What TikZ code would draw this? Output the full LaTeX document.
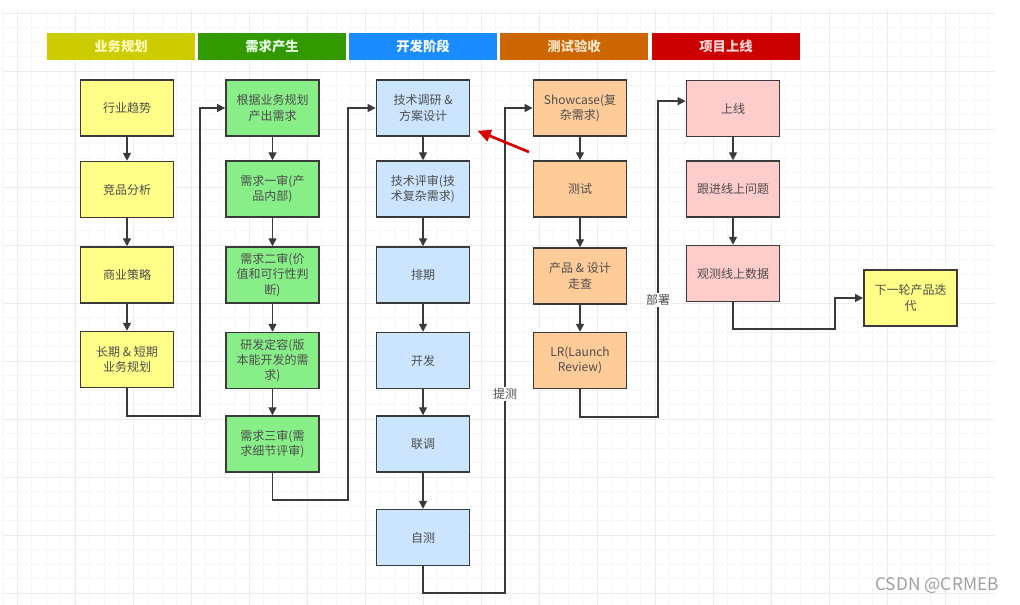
\documentclass[tikz,border=0pt]{standalone}
\usepackage{fontspec}
\newfontfamily\cjk{Noto Sans CJK SC}
\usepackage{tikz}
\usetikzlibrary{arrows.meta, calc, positioning}
\definecolor{hdryellow}{HTML}{CCCC00}
\definecolor{hdrgreen}{HTML}{339900}
\definecolor{hdrblue}{HTML}{1A8CFF}
\definecolor{hdrorange}{HTML}{CC6600}
\definecolor{hdrred}{HTML}{CC0000}
\definecolor{boxyellow}{HTML}{FFFF88}
\definecolor{boxgreen}{HTML}{88EE88}
\definecolor{boxblue}{HTML}{CCE5FF}
\definecolor{boxorange}{HTML}{FFCC99}
\definecolor{boxpink}{HTML}{FFCCCC}
\definecolor{linegray}{HTML}{3A3A3A}
\definecolor{textgray}{HTML}{4D4D4D}
\tikzstyle{header} = [minimum width=111pt, minimum height=20.25pt, inner sep=0pt, font=\cjk\fontsize{10}{12}\selectfont\bfseries]
\tikzstyle{stage} = [draw=linegray, line width=1.1pt, minimum width=70pt, minimum height=42pt, inner sep=1pt, align=center, text=textgray, font=\cjk\fontsize{9}{11.5}\selectfont]
\tikzstyle{arrow} = [line width=1.1pt, draw=linegray, -{Triangle[length=6pt,width=6pt]}]
\tikzstyle{hint} = [line width=2pt, draw=red!85!black, -{Triangle[length=10pt,width=9pt]}]
\tikzstyle{edgetag} = [fill=white, inner sep=1pt, text=textgray, font=\cjk\fontsize{9}{11}\selectfont]
\tikzstyle{gridminor} = [draw=gray!7, line width=0.5pt]
\tikzstyle{gridmajor} = [draw=gray!15, line width=0.6pt]

\begin{document}
\begin{tikzpicture}[x=0.75pt, y=-0.75pt]
            \useasboundingbox (0,0) rectangle (1020,605);
            % background grid
            \foreach \k in {-1,...,67} \draw[gridminor] ({17+14.5*\k},10) -- ({17+14.5*\k},605);
            \foreach \k in {0,...,41} \draw[gridminor] (2,{13+14.5*\k}) -- (995,{13+14.5*\k});
            \foreach \k in {0,...,16} \draw[gridmajor] ({17+58*\k},10) -- ({17+58*\k},605);
            \foreach \k in {0,...,10} \draw[gridmajor] (2,{13+58*\k}) -- (995,{13+58*\k});

            % phase headers
            \node[header, fill=hdryellow, text=yellow!25] at (121,46.5) (hdrplan) {业务规划};
            \node[header, fill=hdrgreen, text=white!90!green] at (272,46.5) (hdrneed) {需求产生};
            \node[header, fill=hdrblue, text=white] at (423,46.5) (hdrdev) {开发阶段};
            \node[header, fill=hdrorange, text=orange!20] at (574,46.5) (hdrtest) {测试验收};
            \node[header, fill=hdrred, text=red!15] at (726,46.5) (hdrlive) {项目上线};

            % business planning
            \node[stage, fill=boxyellow] at (127,108) (trend) {行业趋势};
            \node[stage, fill=boxyellow] at (127,189.5) (compete) {竞品分析};
            \node[stage, fill=boxyellow] at (127,275) (strategy) {商业策略};
            \node[stage, fill=boxyellow] at (127,359.5) (bizplan) {长期 \& 短期\\业务规划};

            % requirements
            \node[stage, fill=boxgreen] at (272.5,108) (needsrc) {根据业务规划\\产出需求};
            \node[stage, fill=boxgreen] at (272.5,189) (review1) {需求一审(产\\品内部)};
            \node[stage, fill=boxgreen] at (272.5,275) (review2) {需求二审(价\\值和可行性判\\断)};
            \node[stage, fill=boxgreen] at (272.5,360.5) (scope) {研发定容(版\\本能开发的需\\求)};
            \node[stage, fill=boxgreen] at (272.5,444) (review3) {需求三审(需\\求细节评审)};

            % development
            \node[stage, fill=boxblue] at (423,108) (research) {技术调研 \&\\方案设计};
            \node[stage, fill=boxblue] at (423,189) (techreview) {技术评审(技\\术复杂需求)};
            \node[stage, fill=boxblue] at (423,275) (schedule) {排期};
            \node[stage, fill=boxblue] at (423,360.5) (develop) {开发};
            \node[stage, fill=boxblue] at (423,444) (integrate) {联调};
            \node[stage, fill=boxblue] at (423,537.5) (selftest) {自测};

            % testing
            \node[stage, fill=boxorange] at (580,108) (showcase) {Showcase(复\\杂需求)};
            \node[stage, fill=boxorange] at (580,189) (testing) {测试};
            \node[stage, fill=boxorange] at (580,276) (walkthru) {产品 \& 设计\\走查};
            \node[stage, fill=boxorange] at (580,360.5) (lreview) {LR(Launch\\Review)};

            % go live
            \node[stage, fill=boxpink] at (733,108.5) (golive) {上线};
            \node[stage, fill=boxpink] at (733,189) (followup) {跟进线上问题};
            \node[stage, fill=boxpink] at (733,273.5) (monitor) {观测线上数据};
            \node[stage, fill=boxyellow] at (910.5,298) (nextround) {下一轮产品迭\\代};

            \draw[arrow] (trend) -- (compete);
            \draw[arrow] (compete) -- (strategy);
            \draw[arrow] (strategy) -- (bizplan);
            \draw[arrow] (needsrc) -- (review1);
            \draw[arrow] (review1) -- (review2);
            \draw[arrow] (review2) -- (scope);
            \draw[arrow] (scope) -- (review3);
            \draw[arrow] (research) -- (techreview);
            \draw[arrow] (techreview) -- (schedule);
            \draw[arrow] (schedule) -- (develop);
            \draw[arrow] (develop) -- (integrate);
            \draw[arrow] (integrate) -- (selftest);
            \draw[arrow] (showcase) -- (testing);
            \draw[arrow] (testing) -- (walkthru);
            \draw[arrow] (walkthru) -- (lreview);
            \draw[arrow] (golive) -- (followup);
            \draw[arrow] (followup) -- (monitor);

            % hand-over between phases
            \coordinate (turnA) at (200,416);
            \coordinate (turnB) at (348,500);
            \coordinate (turnC) at (505,593);
            \coordinate (turnD) at (658,417);
            \coordinate (turnE) at (835,329);
            \draw[arrow] (bizplan.south) |- (turnA) |- (needsrc.west);
            \draw[arrow] (review3.south) |- (turnB) |- (needsrc.west -| research.west);
            \draw[arrow] (selftest.south) |- (turnC) |- (showcase.west);
            \draw[arrow] (lreview.south) |- (turnD) |- ([yshift=5.5pt]golive.west);
            \draw[arrow] (monitor.south) |- (turnE) |- (nextround.west);
            \node[edgetag] at (505,394) (tagtest) {提测};
            \node[edgetag] at (658,300) (tagdeploy) {部署};

            \coordinate (hinttail) at (529,152);
            \draw[hint] (hinttail) -- ([shift={(7,-6)}]research.south east);

            \node[text=gray!75, font=\cjk\fontsize{13}{15}\selectfont] at (937,586) (mark) {CSDN @CRMEB};
\end{tikzpicture}
\end{document}
